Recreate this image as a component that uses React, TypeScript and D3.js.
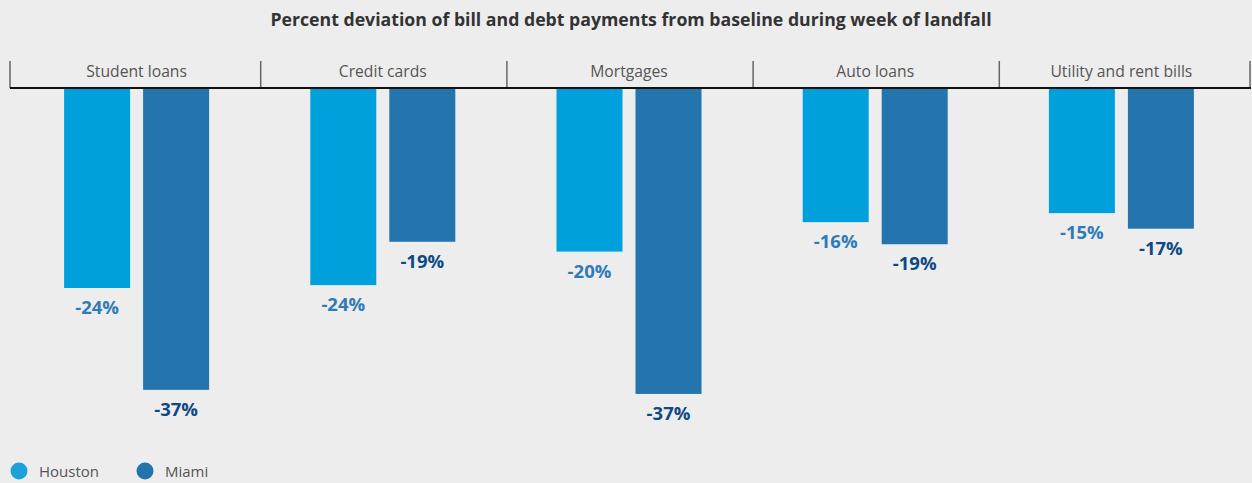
import React from "react";
import * as d3 from "d3";

const categories = ["Student loans", "Credit cards", "Mortgages", "Auto loans", "Utility and rent bills"];
const seriesNames = ["Houston", "Miami"];
const houston = [-24.45, -24.1, -20.0, -16.4, -15.3];
const miami = [-36.9, -18.8, -37.4, -19.1, -17.2];
const title = "Percent deviation of bill and debt payments from baseline during week of landfall";

const W = 1252;
const H = 483;
const barColors = ["#00a0dc", "#2474ad"];
const labelColors = ["#2f7bb7", "#0d4a85"];
const legendColors = ["#1ba1dc", "#2473ab"];
const FONT = "'Open Sans', sans-serif";

export default function App() {
  const x0 = d3.scaleBand<string>().domain(categories).range([13.5, 1244.5]).paddingInner(0);
  const bw = x0.bandwidth();
  const pairW = 145;
  const x1 = d3
    .scaleBand<string>()
    .domain(seriesNames)
    .range([(bw - pairW) / 2, (bw + pairW) / 2])
    .paddingInner(2 - 145 / 79);
  const y = d3.scaleLinear().domain([0, -40]).range([88, 88 + 40 * 8.18]);
  const seriesValues = [houston, miami];
  const seps = categories.map((c, i) => (i === 0 ? 10 : (x0(c) as number) + 1)).concat([1250]);

  return (
    <svg width={W} height={H} style={{ position: "absolute", left: 0, top: 0 }} fontFamily={FONT}>
      <rect x={0} y={0} width={W} height={H} fill="#ededed" />
      <text x={631} y={26} textAnchor="middle" fontSize={17.7} fontWeight={700} fill="#333">
        {title}
      </text>
      {categories.map((c, i) => (
        <g key={c}>
          <text
            x={(x0(c) as number) + bw / 2}
            y={77}
            textAnchor="middle"
            fontSize={15.7}
            fill="#555"
          >
            {c}
          </text>
          {seriesNames.map((s, j) => {
            const v = seriesValues[j][i];
            const bx = (x0(c) as number) + (x1(s) as number);
            return (
              <g key={s}>
                <rect x={bx} y={y(0)} width={x1.bandwidth()} height={y(v) - y(0)} fill={barColors[j]} />
                <text
                  x={bx + x1.bandwidth() / 2}
                  y={y(v) + 26}
                  textAnchor="middle"
                  fontSize={18.5}
                  fontWeight={700}
                  fill={labelColors[j]}
                >
                  {`-${Math.abs(Math.round(v))}%`}
                </text>
              </g>
            );
          })}
        </g>
      ))}
      {seps.map((xx, i) => (
        <line key={i} x1={xx} x2={xx} y1={61} y2={88} stroke="#666" strokeWidth={1.5} />
      ))}
      <line x1={10} x2={1251} y1={88} y2={88} stroke="#111" strokeWidth={2} />
      {seriesNames.map((s, j) => {
        const lx = j === 0 ? 19 : 145;
        return (
          <g key={s}>
            <circle cx={lx} cy={471} r={8.5} fill={legendColors[j]} />
            <text x={lx + 20} y={477} fontSize={15} fill="#555">
              {s}
            </text>
          </g>
        );
      })}
    </svg>
  );
}
